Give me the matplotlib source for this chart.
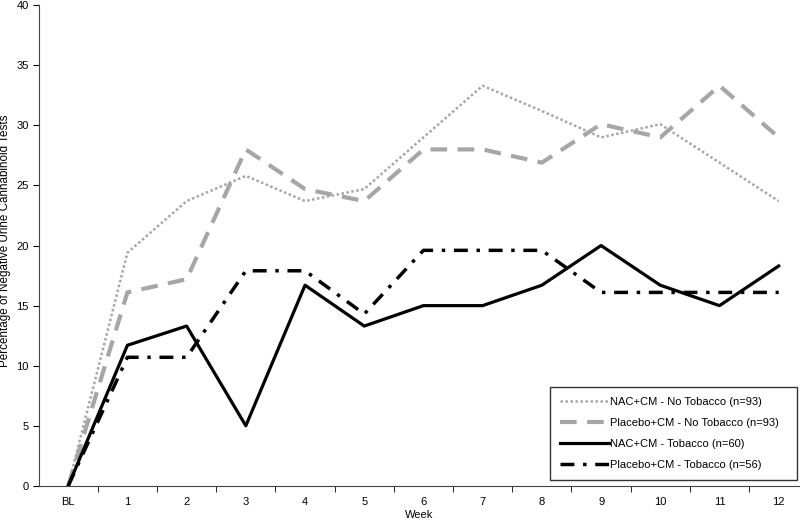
import numpy as np
import matplotlib.pyplot as plt
from matplotlib.ticker import FixedLocator

plt.rcParams['font.family'] = ['Liberation Sans', 'DejaVu Sans']

# Semanas y valores
weeks = ['BL', '1', '2', '3', '4', '5', '6', '7', '8', '9', '10', '11', '12']
nac_no_tob = [0, 19.4, 23.7, 25.8, 23.7, 24.7, 29.0, 33.3, 31.2, 29.0, 30.1, 26.9, 23.7]
pla_no_tob = [0, 16.1, 17.2, 28.0, 24.7, 23.7, 28.0, 28.0, 26.9, 30.1, 29.0, 33.3, 29.0]
nac_tob = [0, 11.7, 13.3, 5.0, 16.7, 13.3, 15.0, 15.0, 16.7, 20.0, 16.7, 15.0, 18.3]
pla_tob = [0, 10.7, 10.7, 17.9, 17.9, 14.3, 19.6, 19.6, 19.6, 16.1, 16.1, 16.1, 16.1]

labels = ['NAC+CM - No Tobacco (n=93)', 'Placebo+CM - No Tobacco (n=93)',
          'NAC+CM - Tobacco (n=60)', 'Placebo+CM - Tobacco (n=56)']

fig = plt.figure(figsize=(8, 5.23), dpi=100)
ax = fig.add_axes([0.049, 0.071, 0.951, 0.919])

x = np.arange(len(weeks))
gray = '#a6a6a6'
ax.plot(x, nac_no_tob, color=gray, linewidth=1.8, linestyle=(0, (1, 1)), label=labels[0])
ax.plot(x, pla_no_tob, color=gray, linewidth=3, linestyle=(0, (4, 2.5)), label=labels[1])
ax.plot(x, nac_tob, color='black', linewidth=2.3, linestyle='-', label=labels[2])
ax.plot(x, pla_tob, color='black', linewidth=2.5, linestyle=(0, (4, 2.5, 1, 2.5)), label=labels[3])

ax.set_xlim(-0.49, 12.36)
ax.set_ylim(0, 40)
ax.set_yticks(np.arange(0, 41, 5))
ax.set_xticks(x)
ax.set_xticklabels(weeks)
ax.xaxis.set_minor_locator(FixedLocator(np.arange(0.5, 12.5, 1)))
ax.tick_params(axis='x', which='major', length=0, labelsize=8, pad=8)
ax.tick_params(axis='x', which='minor', length=4, direction='out')
ax.tick_params(axis='y', length=4, direction='out', labelsize=8)

for s in ['top', 'right']:
    ax.spines[s].set_visible(False)
ax.spines['left'].set_color('#444444')
ax.spines['bottom'].set_color('#444444')

ax.set_xlabel('Week', fontsize=8, labelpad=2)
ax.set_ylabel('Percentage of Negative Urine Cannabinoid Tests', fontsize=8.4)
ax.yaxis.set_label_coords(-0.037, 0.511)

leg = ax.legend(loc='lower left', bbox_to_anchor=(0.6715, 0.012, 0.3246, 0.19), mode='expand',
                borderaxespad=0, fontsize=8, frameon=True, fancybox=False, edgecolor='black',
                handlelength=4.4, handletextpad=0.1, labelspacing=1.0, borderpad=0.9)
leg.get_frame().set_linewidth(1.0)

plt.savefig('out.png', dpi=100)
